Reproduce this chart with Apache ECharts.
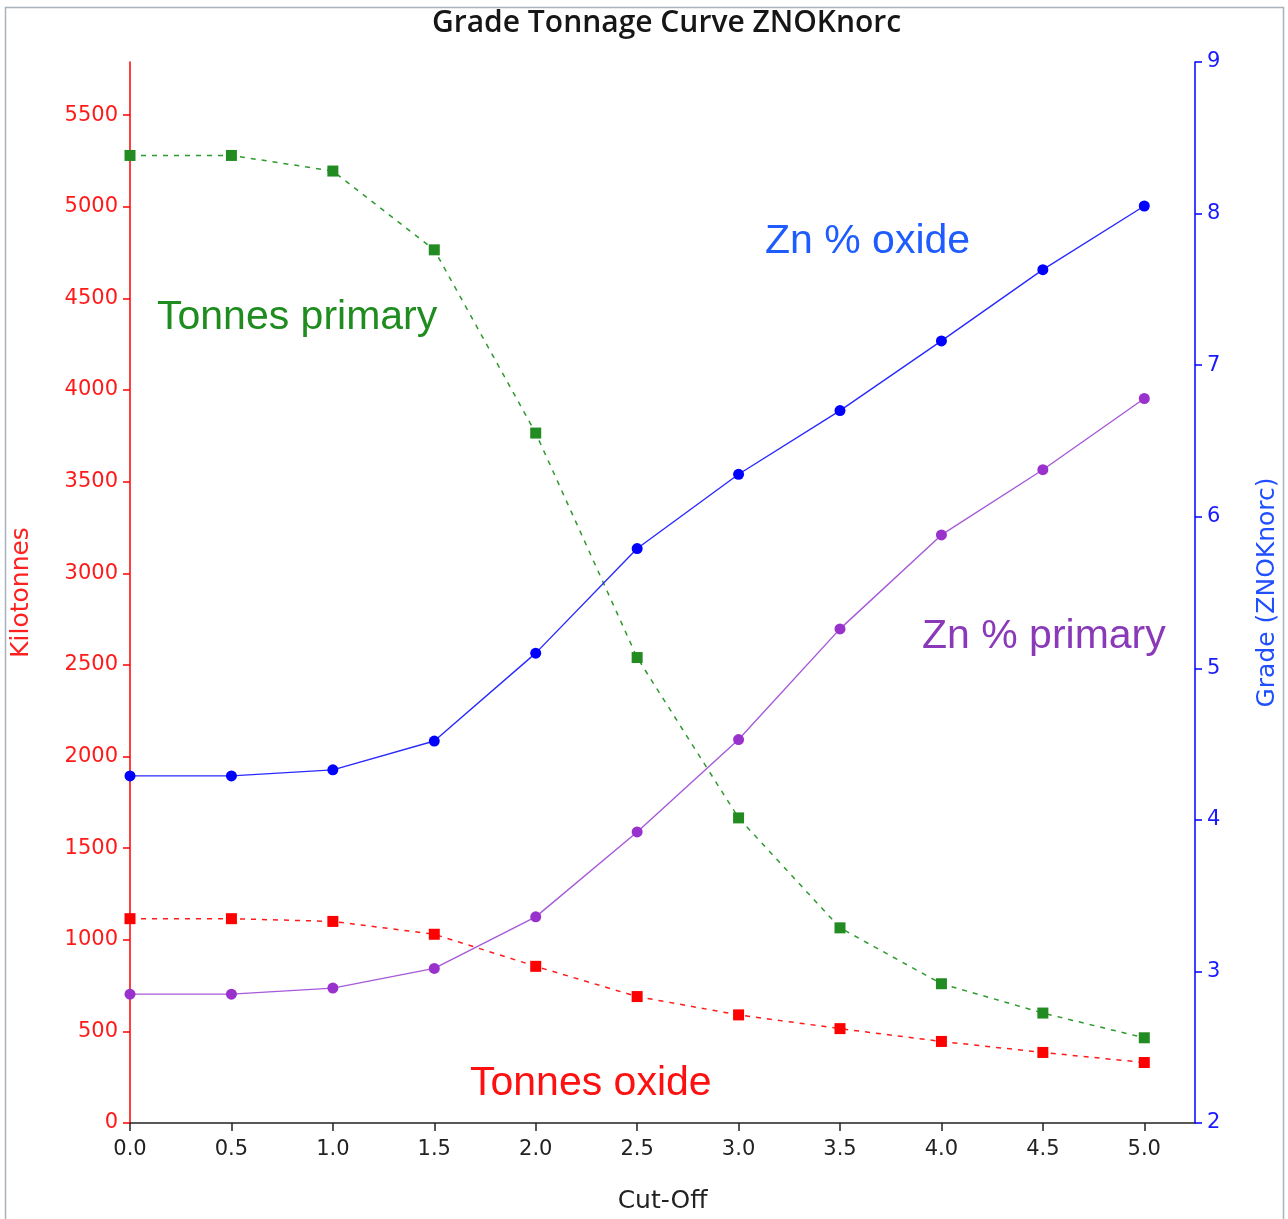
<!DOCTYPE html>
<html>
<head>
<meta charset="utf-8">
<title>Grade Tonnage Curve ZNOKnorc</title>
<script src="https://cdn.jsdelivr.net/npm/echarts@6/dist/echarts.min.js"></script>
<style>
  html, body { margin: 0; padding: 0; background: #ffffff; overflow: hidden; width: 100%; height: 100%; }
  #chart { width: 100vw; height: 100vh; }
</style>
</head>
<body>
<div id="chart"></div>
<script>
// Cut-off grades (Zn %)
const cutOffs = [0.0, 0.5, 1.0, 1.5, 2.0, 2.5, 3.0, 3.5, 4.0, 4.5, 5.0];

// Tonnage above cut-off, kilotonnes
const tonnesPrimary = [5280, 5280, 5195, 4765, 3765, 2540, 1665, 1065, 760, 600, 465];
const tonnesOxide   = [1115, 1115, 1100, 1030, 855, 690, 590, 515, 445, 385, 330];

// Average grade above cut-off, Zn %
const gradeOxide   = [4.29, 4.29, 4.33, 4.52, 5.10, 5.79, 6.28, 6.70, 7.16, 7.63, 8.05];
const gradePrimary = [2.85, 2.85, 2.89, 3.02, 3.36, 3.92, 4.53, 5.26, 5.88, 6.31, 6.78];

// Tick positions
const cutOffTicks = [0.0, 0.5, 1.0, 1.5, 2.0, 2.5, 3.0, 3.5, 4.0, 4.5, 5.0];
const tonnageTicks = [0, 500, 1000, 1500, 2000, 2500, 3000, 3500, 4000, 4500, 5000, 5500];

const pairs = (ys) => cutOffs.map((x, i) => [x, ys[i]]);

const tickFont = { fontFamily: 'DejaVu Sans', fontSize: 21 };
const nameFont = { fontFamily: 'DejaVu Sans', fontSize: 25 };
const noteFont = 'Liberation Sans, Arial, sans-serif';

const chart = echarts.init(document.getElementById('chart'), null, { renderer: 'canvas' });

chart.setOption({
  backgroundColor: '#ffffff',
  animation: false,
  title: {
    text: 'Grade Tonnage Curve ZNOKnorc',
    left: 427,
    top: 3,
    textStyle: { fontFamily: 'Open Sans', fontSize: 30, fontWeight: 600, color: '#161616' }
  },
  grid: { left: 130, right: 91, top: 62, bottom: 90, containLabel: false },
  xAxis: {
    type: 'value',
    min: 0,
    max: 5.25,
    name: 'Cut-Off',
    nameLocation: 'middle',
    nameGap: 66,
    nameTextStyle: Object.assign({ color: '#222' }, nameFont),
    axisLine: { lineStyle: { color: '#222', width: 1.5 } },
    axisTick: { show: true, length: 8, customValues: cutOffTicks, lineStyle: { color: '#222', width: 1.5 } },
    axisLabel: Object.assign({
      customValues: cutOffTicks,
      margin: 16,
      color: '#222',
      formatter: (v) => v.toFixed(1)
    }, tickFont),
    splitLine: { show: false }
  },
  yAxis: [
    {
      type: 'value',
      min: 0,
      max: 5790,
      position: 'left',
      name: 'Kilotonnes',
      nameLocation: 'middle',
      nameRotate: 90,
      nameGap: 96,
      nameTextStyle: Object.assign({ color: '#ff2020' }, nameFont),
      axisLine: { show: true, lineStyle: { color: '#ff0000', width: 1.5 } },
      axisTick: { show: true, length: 7, customValues: tonnageTicks, lineStyle: { color: '#ff0000', width: 1.5 } },
      axisLabel: Object.assign({
        customValues: tonnageTicks,
        margin: 12,
        color: '#ff1a1a',
        formatter: (v) => String(v)
      }, tickFont),
      splitLine: { show: false }
    },
    {
      type: 'value',
      min: 2,
      max: 9,
      interval: 1,
      position: 'right',
      name: 'Grade (ZNOKnorc)',
      nameLocation: 'middle',
      nameRotate: 90,
      nameGap: 60,
      nameTextStyle: Object.assign({ color: '#1f4fff' }, nameFont),
      axisLine: { show: true, lineStyle: { color: '#0000ff', width: 1.5 } },
      axisTick: { show: true, length: 7, lineStyle: { color: '#0000ff', width: 1.5 } },
      axisLabel: Object.assign({ margin: 12, color: '#1a1aff' }, tickFont),
      splitLine: { show: false }
    }
  ],
  series: [
    {
      name: 'Tonnes primary',
      type: 'line',
      yAxisIndex: 0,
      data: pairs(tonnesPrimary),
      symbol: 'rect',
      symbolSize: 11,
      itemStyle: { color: '#228b22' },
      lineStyle: { color: '#2e9a2e', width: 1.5, type: [5, 6] },
      z: 3
    },
    {
      name: 'Tonnes oxide',
      type: 'line',
      yAxisIndex: 0,
      data: pairs(tonnesOxide),
      symbol: 'rect',
      symbolSize: 11,
      itemStyle: { color: '#ff0000' },
      lineStyle: { color: '#ff1a1a', width: 1.5, type: [5, 6] },
      z: 3
    },
    {
      name: 'Zn % oxide',
      type: 'line',
      yAxisIndex: 1,
      data: pairs(gradeOxide),
      symbol: 'circle',
      symbolSize: 11,
      itemStyle: { color: '#0000ff' },
      lineStyle: { color: '#2a2aff', width: 1.4 },
      z: 4
    },
    {
      name: 'Zn % primary',
      type: 'line',
      yAxisIndex: 1,
      data: pairs(gradePrimary),
      symbol: 'circle',
      symbolSize: 11,
      itemStyle: { color: '#9932cc' },
      lineStyle: { color: '#a65ad8', width: 1.4 },
      z: 4
    }
  ],
  graphic: [
    {
      type: 'rect',
      silent: true,
      shape: { x: 5.5, y: 7.5, width: 1278, height: 1240 },
      style: { fill: null, stroke: '#a9b3bd', lineWidth: 1.5 }
    },
    {
      type: 'text', left: 157, top: 297, silent: true,
      style: { text: 'Tonnes primary', fill: '#1e8c1e', font: '41px ' + noteFont }
    },
    {
      type: 'text', left: 765, top: 221, silent: true,
      style: { text: 'Zn % oxide', fill: '#1f5cff', font: '41px ' + noteFont }
    },
    {
      type: 'text', left: 922, top: 616, silent: true,
      style: { text: 'Zn % primary', fill: '#8a3ab9', font: '41px ' + noteFont }
    },
    {
      type: 'text', left: 470, top: 1063, silent: true,
      style: { text: 'Tonnes oxide', fill: '#ff1010', font: '41px ' + noteFont }
    }
  ]
});
window.addEventListener('resize', () => chart.resize());
</script>
</body>
</html>
